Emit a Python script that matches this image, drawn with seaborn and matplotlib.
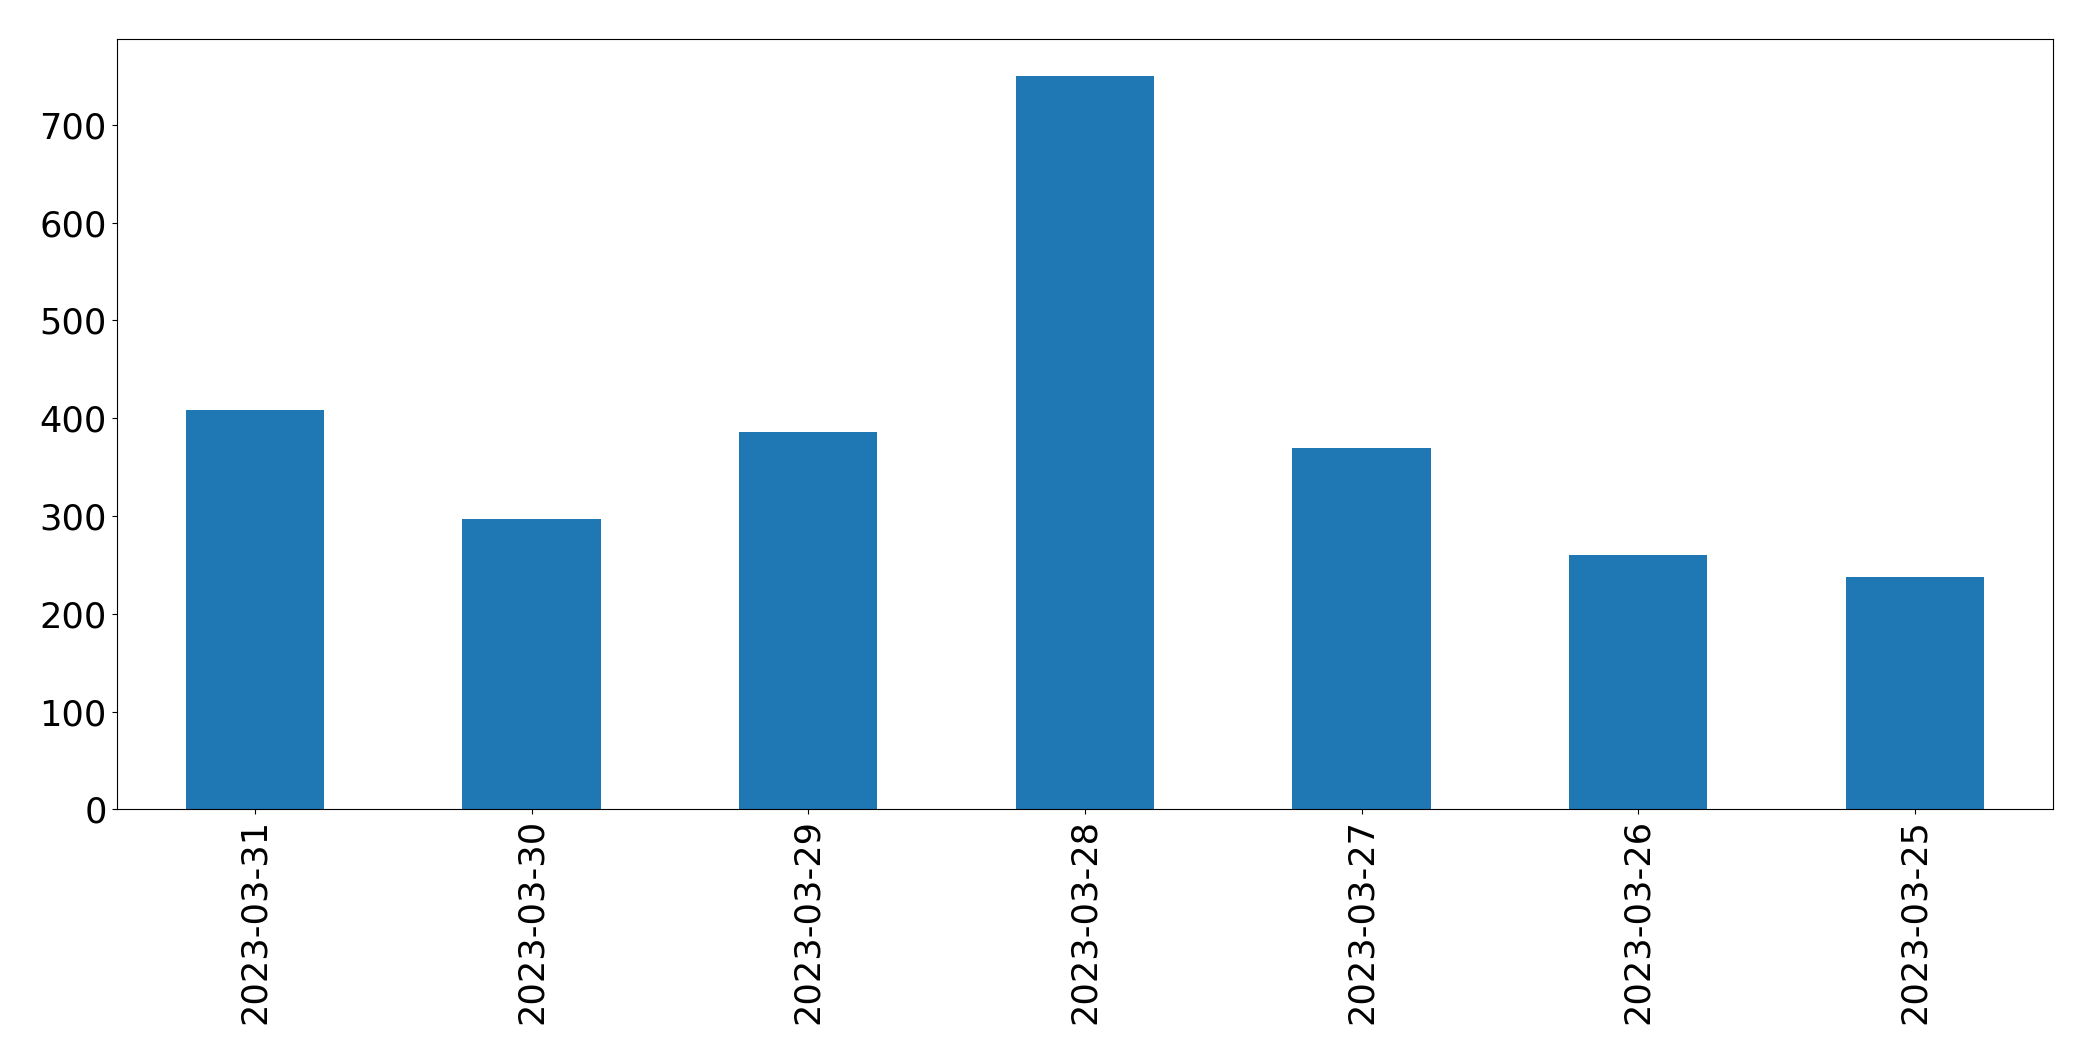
import pandas as pd
import matplotlib
matplotlib.use("Agg")
import matplotlib.pyplot as plt
import seaborn as sns

dates = ["2023-03-31", "2023-03-30", "2023-03-29", "2023-03-28",
         "2023-03-27", "2023-03-26", "2023-03-25"]
counts = [408, 297, 386, 750, 370, 260, 238]

df = pd.DataFrame({"date": dates, "count": counts})

fig, ax = plt.subplots(figsize=(20.93, 10.61), dpi=100)
sns.barplot(data=df, x="date", y="count", color="#1f77b4", saturation=1,
            width=0.5, ax=ax)

ax.set_xlim(-0.5, len(dates) - 0.5)
ax.set_ylim(0, max(counts) * 1.05)
ax.set_xlabel("")
ax.set_ylabel("")
ax.tick_params(axis="both", labelsize=25.3)
plt.xticks(rotation=90)

fig.subplots_adjust(left=0.0557, right=0.981, top=0.963, bottom=0.2372)
fig.savefig("out.png", dpi=100)
